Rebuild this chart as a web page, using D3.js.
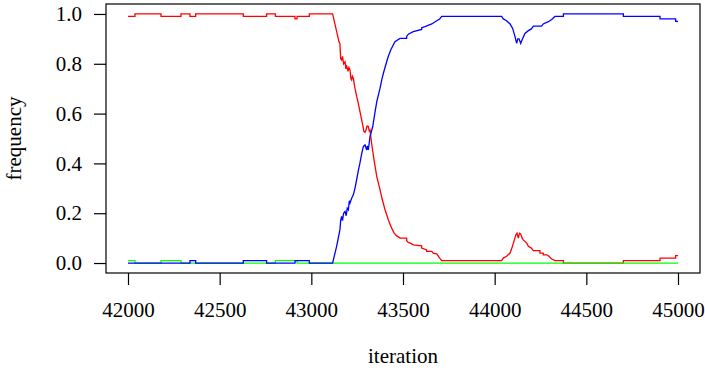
<!DOCTYPE html>
<html>
<head>
<meta charset="utf-8">
<script src="https://cdn.jsdelivr.net/npm/d3@7"></script>
<style>
  body { margin: 0; background: #fff; }
  svg text { font-family: "Liberation Serif", "Times New Roman", serif; fill: #000; }
</style>
</head>
<body>
<script>
// frequency of each state over iterations
// repeated iterations mark the jumps of a step
var red = [
  [42000,0.99],[42038,0.99],[42038,1],[42180,1],[42180,0.99],[42289,0.99],[42289,1],
  [42338,1],[42338,0.99],[42369,0.99],[42369,1],[42629,1],[42629,0.99],[42756,0.99],
  [42756,1],[42804,1],[42804,0.99],[42911,0.99],[42911,0.98],[42922,0.98],[42922,0.99],
  [42989,0.99],[42989,1],[43116,1],[43138,0.93],[43150,0.89],[43156,0.88],[43160,0.82],
  [43165,0.815],[43170,0.83],[43176,0.80],[43184,0.808],[43188,0.78],[43193,0.79],
  [43200,0.77],[43205,0.785],[43211,0.775],[43216,0.74],[43220,0.735],[43224,0.75],
  [43229,0.742],[43238,0.702],[43247,0.67],[43256,0.642],[43262,0.62],[43269,0.595],
  [43276,0.57],[43284,0.541],[43287,0.528],[43293,0.525],[43298,0.534],[43304,0.55],
  [43311,0.548],[43316,0.53],[43320,0.534],[43329,0.48],[43342,0.414],[43357,0.347],
  [43375,0.294],[43385,0.26],[43402,0.214],[43420,0.174],[43438,0.14],[43452,0.12],
  [43466,0.109],[43484,0.10],[43520,0.10],[43520,0.09],[43529,0.083],[43540,0.08],
  [43556,0.073],[43602,0.069],[43602,0.06],[43629,0.053],[43629,0.047],[43657,0.047],
  [43665,0.04],[43684,0.037],[43700,0.02],[43711,0.01],[44038,0.01],[44047,0.02],
  [44065,0.027],[44084,0.04],[44094,0.06],[44102,0.08],[44110,0.10],[44116,0.113],
  [44122,0.12],[44129,0.10],[44135,0.12],[44142,0.117],[44150,0.10],[44156,0.093],
  [44175,0.08],[44184,0.067],[44200,0.06],[44211,0.05],[44247,0.05],[44247,0.04],
  [44265,0.04],[44265,0.033],[44284,0.033],[44293,0.029],[44311,0.016],[44329,0.01],
  [44375,0.01],[44375,0],[44702,0],[44702,0.01],[44902,0.01],[44902,0.02],[44987,0.02],
  [44987,0.03],[45000,0.03]
];
var green = [
  [42000,0.01],[42038,0.01],[42038,0],[42180,0],[42180,0.01],[42289,0.01],[42289,0],
  [42804,0],[42804,0.01],[42922,0.01],[42922,0],[45000,0]
];
var blue = [
  [42000,0],[42338,0],[42338,0.01],[42369,0.01],[42369,0],[42629,0],[42629,0.01],
  [42756,0.01],[42756,0],[42911,0],[42911,0.01],[42989,0.01],[42989,0],[43116,0],
  [43138,0.067],[43156,0.134],[43160,0.17],[43165,0.187],[43170,0.17],[43176,0.20],
  [43184,0.207],[43190,0.19],[43196,0.22],[43202,0.214],[43207,0.25],[43211,0.241],
  [43220,0.26],[43229,0.274],[43238,0.30],[43247,0.334],[43256,0.37],[43265,0.401],
  [43275,0.44],[43284,0.468],[43293,0.474],[43302,0.454],[43306,0.47],[43311,0.454],
  [43320,0.508],[43335,0.548],[43346,0.60],[43357,0.648],[43375,0.702],[43384,0.735],
  [43393,0.762],[43411,0.808],[43420,0.83],[43433,0.855],[43456,0.889],[43484,0.902],
  [43520,0.902],[43520,0.91],[43529,0.919],[43556,0.929],[43602,0.938],[43602,0.945],
  [43620,0.949],[43657,0.96],[43684,0.973],[43700,0.98],[43711,0.99],[44038,0.99],
  [44047,0.98],[44065,0.973],[44084,0.96],[44098,0.942],[44111,0.909],[44120,0.882],
  [44126,0.90],[44133,0.90],[44142,0.882],[44151,0.898],[44165,0.922],[44184,0.933],
  [44200,0.94],[44211,0.951],[44256,0.951],[44265,0.96],[44293,0.969],[44311,0.978],
  [44329,0.99],[44375,0.99],[44375,1],[44702,1],[44702,0.99],[44902,0.99],[44902,0.98],
  [44987,0.98],[44987,0.97],[45000,0.97]
];

var xTicks = [42000, 42500, 43000, 43500, 44000, 44500, 45000];
var yTicks = [0, 0.2, 0.4, 0.6, 0.8, 1.0];

var width = 705, height = 374;
var margin = {top: 4, right: 5, bottom: 101, left: 106};
var serif = "'Liberation Serif', 'Times New Roman', serif";

var svg = d3.select("body").append("svg")
    .attr("width", width)
    .attr("height", height);

// R style 4% padding on both axes
var x = d3.scaleLinear()
    .domain([42000 - 120, 45000 + 120])
    .range([margin.left, width - margin.right]);
var y = d3.scaleLinear()
    .domain([-0.04, 1.04])
    .range([height - margin.bottom, margin.top]);

var line = d3.line()
    .x(function(d) { return x(d[0]); })
    .y(function(d) { return y(d[1]); });

svg.append("path").datum(red)
    .attr("fill", "none").attr("stroke", "#ff0000").attr("stroke-width", 1.3)
    .attr("d", line);
svg.append("path").datum(green)
    .attr("fill", "none").attr("stroke", "#00ff00").attr("stroke-width", 1.3)
    .attr("d", line);
svg.append("path").datum(blue)
    .attr("fill", "none").attr("stroke", "#0000ff").attr("stroke-width", 1.3)
    .attr("d", line);

var xAxis = svg.append("g")
    .attr("transform", "translate(0," + (height - margin.bottom) + ")")
    .call(d3.axisBottom(x).tickValues(xTicks).tickFormat(d3.format("d"))
        .tickSize(12).tickSizeOuter(0).tickPadding(17));
var yAxis = svg.append("g")
    .attr("transform", "translate(" + margin.left + ",0)")
    .call(d3.axisLeft(y).tickValues(yTicks).tickFormat(d3.format(".1f"))
        .tickSize(12).tickSizeOuter(0).tickPadding(12));

[xAxis, yAxis].forEach(function(g) {
  g.attr("font-family", serif).attr("font-size", 21);
  g.select(".domain").remove();
  g.selectAll(".tick line").attr("stroke", "#000").attr("stroke-width", 1.2);
  g.selectAll(".tick text")
      .style("font-family", serif)
      .style("font-size", "21px")
      .attr("fill", "#000");
});

svg.append("rect")
    .attr("x", margin.left).attr("y", margin.top)
    .attr("width", width - margin.right - margin.left)
    .attr("height", height - margin.bottom - margin.top)
    .attr("fill", "none").attr("stroke", "#000").attr("stroke-width", 1.2);

svg.append("text")
    .attr("x", (margin.left + width - margin.right) / 2)
    .attr("y", 363)
    .attr("text-anchor", "middle")
    .style("font-family", serif)
    .style("font-size", "21px")
    .text("iteration");

svg.append("text")
    .attr("transform", "translate(21," + (margin.top + height - margin.bottom) / 2 + ")rotate(-90)")
    .attr("text-anchor", "middle")
    .style("font-family", serif)
    .style("font-size", "21px")
    .text("frequency");
</script>
</body>
</html>
